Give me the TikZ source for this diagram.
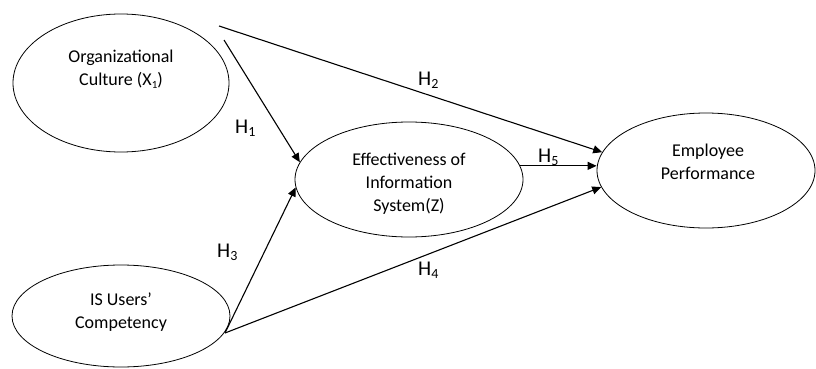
\documentclass[tikz,border=0pt]{standalone}
\usepackage{fontspec}
\setmainfont{Carlito}
\usetikzlibrary{arrows.meta,shapes.geometric}
\def\hsub#1#2{\raisebox{-0.3ex}{\fontsize{#1}{#1}\selectfont #2}}

\tikzset{
	latent/.style={draw, ellipse, line width=0.8pt, inner sep=0pt},
	vartext/.style={align=center, inner sep=0pt, font=\fontsize{18}{23}\selectfont},
	hlabel/.style={anchor=base west, inner sep=0pt, font=\fontsize{21}{21}\selectfont},
	hyparrow/.style={line width=1.1pt, -{Triangle[length=9pt,width=8pt]}}
}

\begin{document}
\begin{tikzpicture}[x=1pt, y=-1pt]
		%%%%% START %%%%%
		\useasboundingbox (0,0) rectangle (816,369);
		
		\node[latent, minimum width=216pt, minimum height=138pt] (org) at (121,83) {};
		\node[latent, minimum width=218pt, minimum height=102pt] (isu) at (121,316) {};
		\node[latent, minimum width=228pt, minimum height=115pt] (eff) at (409,179.5) {};
		\node[latent, minimum width=218pt, minimum height=115pt] (emp) at (706,170.5) {};
		
		\node[vartext] (orgtxt) at ([yshift=14pt]org.center) {Organizational\\Culture (X\hsub{11}{1})};
		\node[vartext] (isutxt) at ([yshift=4pt]isu.center) {IS Users’\\Competency};
		\node[vartext] (efftxt) at ([yshift=-4.5pt]eff.center) {Effectiveness of\\Information\\System(Z)};
		\node[vartext] (emptxt) at ([xshift=2pt,yshift=8.5pt]emp.center) {Employee\\Performance};
		
		\coordinate (orgtop) at (219,26);
		\coordinate (orgside) at (224,40);
		\coordinate (isuside) at (225,333);
		
		\draw[hyparrow] (orgside) -- (eff.171);
		\draw[hyparrow] (orgtop) -- (emp.170);
		\draw[hyparrow] (isuside) -- (eff.184);
		\draw[hyparrow] (isuside) -- (emp.189);
		\draw[hyparrow] (eff.7.5) -- (eff.7.5 -| emp.west);
		
		\node[hlabel] (h1) at (235,133) {H\hsub{14}{1}};
		\node[hlabel] (h2) at (418,85) {H\hsub{14}{2}};
		\node[hlabel] (h3) at (217,257) {H\hsub{14}{3}};
		\node[hlabel] (h4) at (418,275) {H\hsub{14}{4}};
		\node[hlabel] (h5) at (538,162) {H\hsub{14}{5}};
		
		%%%%% END %%%%%
\end{tikzpicture}
\end{document}
